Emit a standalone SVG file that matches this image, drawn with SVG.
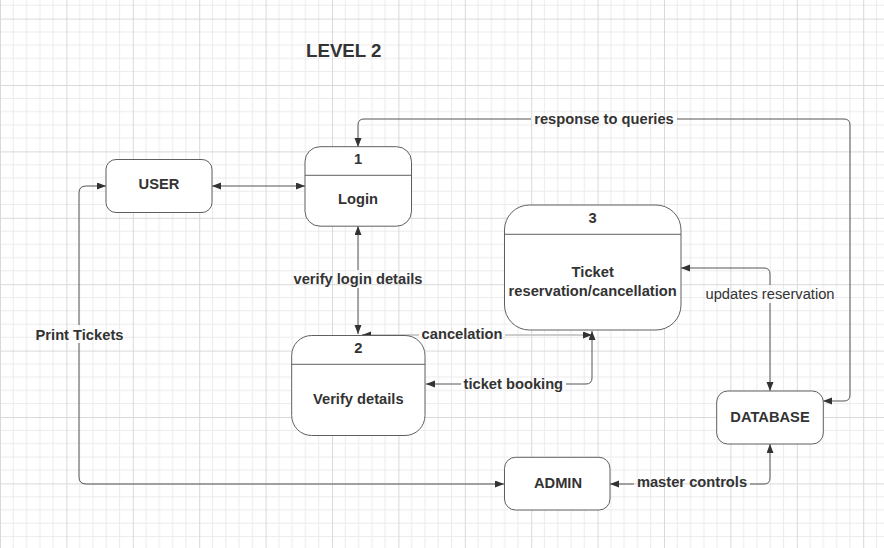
<svg xmlns="http://www.w3.org/2000/svg" width="884" height="548" viewBox="0 0 884 548">
<style>
.node{fill:#fff;stroke:#5f5f5f;stroke-width:1}
.div{stroke:#5f5f5f;stroke-width:1}
.t{font-family:"Liberation Sans",Arial,sans-serif;font-size:14.7px;font-weight:bold;fill:#333;text-anchor:middle}
.r{font-weight:normal}
.c{fill:none;stroke:#555;stroke-width:1}
.light{stroke:#bdbdbd;stroke-width:1.6}
</style>
<defs>
<pattern id="grid" width="66.4" height="66.4" patternUnits="userSpaceOnUse" x="0" y="18.6">
<path d="M13.28 0V66.4M26.56 0V66.4M39.84 0V66.4M53.12 0V66.4M0 13.28H66.4M0 26.56H66.4M0 39.84H66.4M0 53.12H66.4" stroke="#ebebeb" stroke-width="1" fill="none"/>
<path d="M0.5 0V66.4M0 0.5H66.4" stroke="#d9d9d9" stroke-width="1" fill="none"/>
</pattern>
<marker id="a" markerUnits="userSpaceOnUse" markerWidth="10" markerHeight="8" refX="9" refY="3.5" orient="auto-start-reverse">
<path d="M0,0 L9,3.5 L0,7 z" fill="#333"/>
</marker>
</defs>
<rect width="884" height="548" fill="#fff"/>
<rect width="884" height="548" fill="url(#grid)"/>
<text x="306" y="56.7" class="t" style="font-size:18.7px;text-anchor:start">LEVEL 2</text>
<g id="connectors">
<path class="c" d="M212,186 L305,186" marker-start="url(#a)" marker-end="url(#a)"/>
<path class="c" d="M823,401 L844,401 Q850,401 850,395 L850,125 Q850,119 844,119 L677,119" marker-start="url(#a)"/>
<path class="c" d="M531,119 L364,119 Q358,119 358,125 L358,147" marker-end="url(#a)"/>
<text class="t" x="604" y="123.5">response to queries</text>
<path class="c" d="M358,226 L358,270" marker-start="url(#a)"/>
<path class="c" d="M358,288 L358,334" marker-end="url(#a)"/>
<text class="t" x="358" y="284">verify login details</text>
<path class="c light" d="M362,335 L419,335"/>
<path class="c light" d="M505,335 L590,335"/>
<path class="c" d="M370,335 L362,335" marker-end="url(#a)"/>
<path class="c" d="M584,335 L592,335" marker-end="url(#a)"/>
<text class="t" x="462" y="338.5">cancelation</text>
<path class="c" d="M426,384 L461,384" marker-start="url(#a)"/>
<path class="c" d="M566,384 L586,384 Q592,384 592,378 L592,331" marker-end="url(#a)"/>
<text class="t" x="513.3" y="389">ticket booking</text>
<path class="c" d="M681,268 L764,268 Q770,268 770,274 L770,285" marker-start="url(#a)"/>
<path class="c" d="M770,303 L770,391" marker-end="url(#a)"/>
<text class="t r" x="770" y="299">updates reservation</text>
<path class="c" d="M610,484 L634,484" marker-start="url(#a)"/>
<path class="c" d="M750,484 L764,484 Q770,484 770,478 L770,444" marker-end="url(#a)"/>
<text class="t" x="692" y="487">master controls</text>
<path class="c" d="M504,484 L86,484 Q79,484 79,477 L79,343" marker-start="url(#a)"/>
<path class="c" d="M79,325 L79,193 Q79,186 86,186 L106,186" marker-end="url(#a)"/>
<text class="t" x="79.5" y="339.5">Print Tickets</text>
</g>
<g id="user">
<rect class="node" x="106" y="159.5" width="106" height="53" rx="10"/>
<text class="t" x="159" y="189.3">USER</text>
</g>
<g id="login">
<rect class="node" x="305" y="146.7" width="106.5" height="79.5" rx="15"/>
<line class="div" x1="305" y1="175.3" x2="411.5" y2="175.3"/>
<text class="t" x="358" y="164">1</text>
<text class="t" x="358" y="204">Login</text>
</g>
<g id="verify">
<rect class="node" x="291.7" y="335.5" width="133.3" height="100" rx="20"/>
<line class="div" x1="291.7" y1="364.3" x2="425" y2="364.3"/>
<text class="t" x="358.3" y="353.3">2</text>
<text class="t" x="358.3" y="403.5">Verify details</text>
</g>
<g id="ticket">
<rect class="node" x="504.5" y="205" width="176.5" height="125" rx="25"/>
<line class="div" x1="504.5" y1="234.3" x2="681" y2="234.3"/>
<text class="t" x="592.7" y="223.3">3</text>
<text class="t" x="592.7" y="277.3">Ticket</text>
<text class="t" x="592.7" y="295.5">reservation/cancellation</text>
</g>
<g id="database">
<rect class="node" x="716.7" y="391" width="106.6" height="53" rx="11"/>
<text class="t" x="770" y="421.5">DATABASE</text>
</g>
<g id="admin">
<rect class="node" x="504.5" y="457.3" width="105.5" height="52.7" rx="11"/>
<text class="t" x="558" y="487.5">ADMIN</text>
</g>
</svg>
